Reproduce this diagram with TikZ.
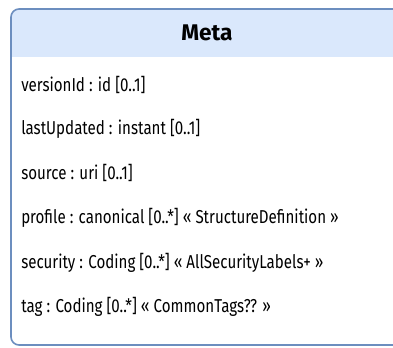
\documentclass[tikz,border=0pt]{standalone}
\usepackage{fontspec}
\setmainfont{Fira Sans}[FakeStretch=0.81]
\newfontfamily\titlefont{Fira Sans}
\usetikzlibrary{positioning}
\definecolor{hdrfill}{HTML}{DAE8FC}
\definecolor{hdrline}{HTML}{6C8EBF}

\begin{document}
\begin{tikzpicture}[x=0.75pt, y=-0.75pt,
  attr/.style={anchor=west, inner sep=0pt, font=\fontsize{14}{16}\selectfont},
  classname/.style={inner sep=0pt, font=\titlefont\fontsize{17}{19}\selectfont\bfseries}
]
\useasboundingbox (0,0) rectangle (393,347);
\clip (0,0) rectangle (393,347);
% class box
\begin{scope}
  \clip[rounded corners=6] (11,9) rectangle (403,345);
  \fill[white] (11,9) rectangle (403,345);
  \fill[hdrfill] (11,9) rectangle (403,57);
\end{scope}
\draw[hdrline, line width=1.2pt, rounded corners=6] (11,9) rectangle (403,345);
\node[classname] (meta) at (207,33) {Meta};
% attributes
\node[attr] (versionid) at (21,85) {versionId : id [0..1]};
\node[attr] (lastupdated) at (21,129) {lastUpdated : instant [0..1]};
\node[attr] (source) at (21,173) {source : uri [0..1]};
\node[attr] (profile) at (21,218) {profile : canonical [0..*] « StructureDefinition »};
\node[attr] (security) at (21,263) {security : Coding [0..*] « AllSecurityLabels+ »};
\node[attr] (tag) at (21,307) {tag : Coding [0..*] « CommonTags?? »};
\end{tikzpicture}
\end{document}
